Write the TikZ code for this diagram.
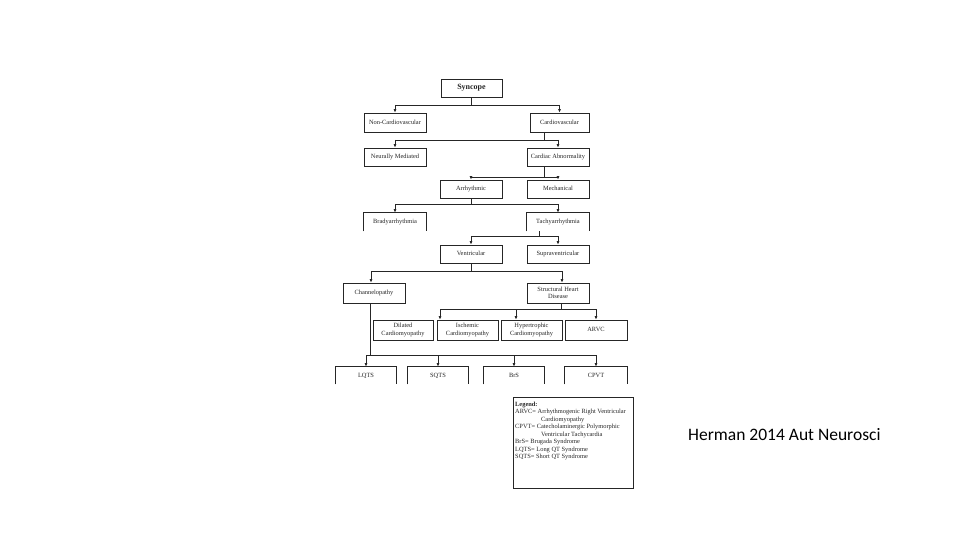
\documentclass[tikz,border=0pt]{standalone}
\usepackage{fontspec}
\setmainfont{Liberation Serif}
\newfontfamily\capfont{Carlito}
\usetikzlibrary{arrows.meta,calc}
\begin{document}
\begin{tikzpicture}[x=1pt,y=-1pt,
  line/.style={draw=black!85, line width=0.7pt},
  arr/.style={line, -{Latex[length=3.5pt,width=3pt]}},
  box/.style={line, minimum width=61pt, minimum height=18pt, inner sep=0pt,
    font=\fontsize{6.4}{7.4}\selectfont, align=center, text=black!85,
    text height=4.6pt, text depth=1.4pt},
  obox/.style={box, draw=none},
  tall/.style={minimum height=20pt, minimum width=60pt},
]
\useasboundingbox[fill=white] (0,0) rectangle (960,540);

% nodes
\node[box, font=\bfseries\fontsize{8}{9}\selectfont, text height=5.6pt, text depth=1.6pt] (syn) at (471.5,88) {Syncope};
\node[box, minimum height=19pt, minimum width=62pt] (ncv) at (395,122.5) {Non-Cardiovascular};
\node[box, minimum height=19pt, minimum width=59pt] (cv) at (559.5,122.5) {Cardiovascular};
\node[box, minimum width=62pt] (nm) at (395,157) {Neurally Mediated};
\node[box, minimum width=62pt] (ca) at (558,157) {Cardiac Abnormality};
\node[box, minimum width=62pt] (arr) at (471,189) {Arrhythmic};
\node[box, minimum width=62pt] (mech) at (558,189) {Mechanical};
\node[obox, minimum width=62pt] (brady) at (395,222) {Bradyarrhythmia};
\node[obox, minimum width=62pt] (tachy) at (558,222) {Tachyarrhythmia};
\node[box, minimum width=62pt] (vent) at (471,254) {Ventricular};
\node[box, minimum width=62pt] (supra) at (558,254) {Supraventricular};
\node[box, tall, minimum width=62pt] (chan) at (374,293) {Channelopathy};
\node[box, tall, minimum width=62pt, text height=, text depth=] (shd) at (558,293) {Structural Heart\\Disease};
\node[box, tall, text height=, text depth=] (dil) at (403,330) {Dilated\\Cardiomyopathy};
\node[box, tall, minimum width=61pt, text height=, text depth=] (isch) at (467.5,330) {Ischemic\\Cardiomyopathy};
\node[box, tall, minimum width=61pt, text height=, text depth=] (hyp) at (531.5,330) {Hypertrophic\\Cardiomyopathy};
\node[box, tall, minimum width=62pt] (arvc) at (596,330) {ARVC};
\node[obox, minimum width=60pt] (lqts) at (366,376) {LQTS};
\node[obox, minimum width=60pt] (sqts) at (438,376) {SQTS};
\node[obox, minimum width=60pt] (brs) at (514,376) {BrS};
\node[obox, minimum width=62pt] (cpvt) at (596,376) {CPVT};

% open-bottom boxes
\foreach \n in {brady,tachy} {
  \draw[line] (\n.south west) -- (\n.north west) -- (\n.north east) -- (\n.south east);
}
\foreach \n in {lqts,sqts,brs,cpvt} {
  \draw[line] ($(\n.south west)+(0,-1)$) -- (\n.north west) -- (\n.north east) -- ($(\n.south east)+(0,-1)$);
}

% bus levels
\coordinate (b1) at (0,105);
\coordinate (b2) at (0,140);
\coordinate (b3) at (0,177);
\coordinate (b4) at (0,204);
\coordinate (b5) at (0,236);
\coordinate (b6) at (0,271);
\coordinate (b7) at (0,309);
\coordinate (b8) at (0,355);

% Syncope
\draw[line] (syn.south) -- (syn.south |- b1);
\draw[line] (ncv.north |- b1) -- (cv.north |- b1);
\draw[arr] (ncv.north |- b1) -- (ncv.north);
\draw[arr] (cv.north |- b1) -- (cv.north);

% Cardiovascular
\coordinate (cvd) at ($(cv.south)+(-15.5,0)$);
\draw[line] (cvd) -- (cvd |- b2);
\draw[line] (nm.north |- b2) -- (ca.north |- b2);
\draw[arr] (nm.north |- b2) -- (nm.north);
\draw[arr] (ca.north |- b2) -- (ca.north);

% Cardiac Abnormality
\coordinate (cad) at ($(ca.south)+(-14,0)$);
\draw[line] (cad) -- (cad |- b3);
\draw[line] (arr.north |- b3) -- (mech.north |- b3);
\draw[arr] (arr.north |- b3) -- (arr.north);
\draw[arr] (mech.north |- b3) -- (mech.north);

% Arrhythmic
\draw[line] (arr.south) -- (arr.south |- b4);
\draw[line] (brady.north |- b4) -- (tachy.north |- b4);
\draw[arr] (brady.north |- b4) -- (brady.north);
\draw[arr] (tachy.north |- b4) -- (tachy.north);

% Tachyarrhythmia
\coordinate (tad) at ($(tachy.south)+(-19,0)$);
\draw[line] (tad) -- (tad |- b5);
\draw[line] (vent.north |- b5) -- (supra.north |- b5);
\draw[arr] (vent.north |- b5) -- (vent.north);
\draw[arr] (supra.north |- b5) -- (supra.north);

% Ventricular
\coordinate (chn) at ($(chan.north)+(-3,0)$);
\coordinate (shn) at ($(shd.north)+(4,0)$);
\draw[line] (vent.south) -- (vent.south |- b6);
\draw[line] (chn |- b6) -- (shn |- b6);
\draw[arr] (chn |- b6) -- (chn);
\draw[arr] (shn |- b6) -- (shn);

% Structural Heart Disease
\coordinate (shdd) at ($(shd.south)+(3,0)$);
\coordinate (ischn) at ($(isch.north)+(-27.5,0)$);
\coordinate (hypn) at ($(hyp.north)+(-15.5,0)$);
\draw[line] (shdd) -- (shdd |- b7);
\draw[line] (ischn |- b7) -- (arvc.north |- b7);
\draw[arr] (ischn |- b7) -- (ischn);
\draw[arr] (hypn |- b7) -- (hypn);
\draw[arr] (arvc.north |- b7) -- (arvc.north);

% Channelopathy
\coordinate (chd) at ($(chan.south)+(-4,0)$);
\draw[line] (chd) -- (chd |- b8);
\draw[line] (lqts.north |- b8) -- (cpvt.north |- b8);
\foreach \n in {lqts,sqts,brs,cpvt} {
  \draw[arr] (\n.north |- b8) -- (\n.north);
}

% legend
\node[draw=black!85, line width=0.7pt, minimum width=120pt, minimum height=91pt,
  anchor=north west, inner sep=0pt] (leg) at (513,397) {};
\node[anchor=north west, align=left, inner sep=0pt, text=black!85,
  font=\fontsize{6.4}{7.55}\selectfont] (legtxt) at (515,401.5)
  {\textbf{Legend:}\\
   ARVC= Arrhythmogenic Right Ventricular\\
   \hspace*{26pt}Cardiomyopathy\\
   CPVT= Catecholaminergic Polymorphic\\
   \hspace*{26pt}Ventricular Tachycardia\\
   BrS= Brugada Syndrome\\
   LQTS= Long QT Syndrome\\
   SQTS= Short QT Syndrome};

% caption
\node[anchor=west, inner sep=0pt, font=\capfont\fontsize{17.5}{20}\selectfont] (cap)
  at (688,435) {Herman 2014 Aut Neurosci};
\end{tikzpicture}
\end{document}
